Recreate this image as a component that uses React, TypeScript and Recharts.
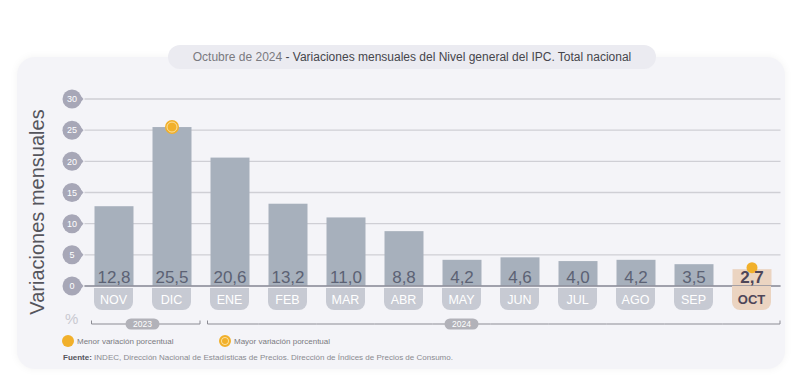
import React from 'react';
import { BarChart, Bar, XAxis, YAxis, CartesianGrid, ReferenceLine, LabelList } from 'recharts';

const months = ['NOV', 'DIC', 'ENE', 'FEB', 'MAR', 'ABR', 'MAY', 'JUN', 'JUL', 'AGO', 'SEP', 'OCT'];
const values = [12.8, 25.5, 20.6, 13.2, 11.0, 8.8, 4.2, 4.6, 4.0, 4.2, 3.5, 2.7];
const years = ['2023', '2023', '2024', '2024', '2024', '2024', '2024', '2024', '2024', '2024', '2024', '2024'];
// where the year pill sits, in category units from the first month of the year
const yearPillAt: Record<string, number> = { '2023': 0.5, '2024': 4 };
const yTicks = [0, 5, 10, 15, 20, 25, 30];
const current = 'OCT';

const data = months.map((m, i) => ({ month: m, value: values[i], year: years[i] }));
const maxVal = Math.max(...values);
const minVal = Math.min(...values);

const W = 796;
const H = 377;
const M = { top: 99, right: 15.5, bottom: 51, left: 54.5 };
const Y_AXIS_W = 30;
const X_AXIS_H = 40;
const plotW = W - M.left - M.right - Y_AXIS_W;
const band = plotW / months.length;

const FONT = '"Liberation Sans", Arial, sans-serif';
const BAR = '#a7b0bc';
const PEACH = '#ebd4c1';
const TAB = '#c7cad3';
const ORANGE = '#f1b02b';
const fmt = (v: number) => v.toFixed(1).replace('.', ',');

function YBadge(props: any) {
    const { x, y, payload } = props;
    const cx = x - 12.5;
    return (
        <g>
            <path d={`M${cx + 4},${y - 8.6} L${cx + 11.5},${y} L${cx + 4},${y + 8.6} Z`} fill="#a7a7b7" />
            <circle cx={cx} cy={y} r={9.5} fill="#a7a7b7" />
            <text x={cx} y={y + 3.2} textAnchor="middle" fontSize={9} fill="#fff" fontFamily={FONT}>
                {payload.value}
            </text>
        </g>
    );
}

function MonthTab(props: any) {
    const { x, y, payload, index } = props;
    const hl = payload.value === current;
    const top = hl ? y : y + 2;
    const bot = y + 24;
    const hw = 19.5;
    const r = 8;
    const year = years[index];
    const first = years.indexOf(year);
    const last = years.lastIndexOf(year);
    const ly = y + 38;
    const x1 = index === first ? x - band / 2 + 7 : x - band / 2;
    const x2 = index === last ? x + band / 2 - 0.5 : x + band / 2;
    const pillIdx = first + Math.round(yearPillAt[year]);
    const pillX = x + (first + yearPillAt[year] - index) * band;
    return (
        <g>
            <path
                d={`M${x - hw},${top} H${x + hw} V${bot - r} A${r},${r} 0 0 1 ${x + hw - r},${bot} H${x - hw + r} A${r},${r} 0 0 1 ${x - hw},${bot - r} Z`}
                fill={hl ? PEACH : TAB}
            />
            <text
                x={x}
                y={y + 17.5}
                textAnchor="middle"
                fontSize={hl ? 13 : 12.5}
                fontWeight={hl ? 700 : 400}
                fill={hl ? '#4e4658' : '#fff'}
                fontFamily={FONT}
            >
                {payload.value}
            </text>
            <line x1={x1} y1={ly} x2={x2} y2={ly} stroke="#8c8c94" strokeWidth={1} />
            {index === first && <line x1={x1} y1={ly - 3.5} x2={x1} y2={ly} stroke="#8c8c94" strokeWidth={1} />}
            {index === last && <line x1={x2} y1={ly - 3.5} x2={x2} y2={ly} stroke="#8c8c94" strokeWidth={1} />}
            {index === pillIdx && (
                <g>
                    <rect x={pillX - 17} y={ly - 5.5} width={34} height={11} rx={5.5} fill="#b2b2b9" />
                    <text x={pillX} y={ly + 3} textAnchor="middle" fontSize={8.5} fill="#fff" fontFamily={FONT}>
                        {year}
                    </text>
                </g>
            )}
        </g>
    );
}

function BarShape(props: any) {
    const { x, y, width, height, payload } = props;
    const hl = payload.month === current;
    const cx = x + width / 2;
    return (
        <g>
            <rect x={x} y={y} width={width} height={height} fill={hl ? PEACH : BAR} />
            {payload.value === maxVal && (
                <g>
                    <circle cx={cx} cy={y} r={7} fill={ORANGE} />
                    <circle cx={cx} cy={y} r={5} fill="none" stroke="#fbe1a1" strokeWidth={1} />
                </g>
            )}
            {payload.value === minVal && <circle cx={cx} cy={y - 1.5} r={5.5} fill={ORANGE} />}
        </g>
    );
}

function ValueLabel(props: any) {
    const { x, y, width, height, value, index } = props;
    const hl = months[index] === current;
    return (
        <text
            x={x + width / 2}
            y={y + height - 3}
            textAnchor="middle"
            fontSize={17}
            fontWeight={hl ? 700 : 400}
            fill={hl ? '#4e4658' : '#5c6274'}
            fontFamily={FONT}
        >
            {fmt(value)}
        </text>
    );
}

export default function App() {
    return (
        <div style={{ position: 'absolute', left: 0, top: 0, width: W, height: H, background: '#fff', fontFamily: FONT }}>
            <div
                style={{
                    position: 'absolute',
                    left: 17,
                    top: 57,
                    width: 768,
                    height: 312,
                    borderRadius: 18,
                    background: '#f4f4f8',
                    boxShadow: '0 0 8px rgba(0,0,0,0.05)',
                }}
            />
            <div
                style={{
                    position: 'absolute',
                    left: 168,
                    top: 45,
                    width: 488,
                    height: 24,
                    borderRadius: 12,
                    background: '#ebebf1',
                    fontSize: 12,
                    lineHeight: '24px',
                    textAlign: 'center',
                    whiteSpace: 'nowrap',
                }}
            >
                <span style={{ color: '#7a7a80' }}>Octubre de 2024</span>
                <span style={{ color: '#46464c' }}> - Variaciones mensuales del Nivel general del IPC. Total nacional</span>
            </div>
            <div
                style={{
                    position: 'absolute',
                    left: 37 - 110,
                    top: 212 - 13,
                    width: 220,
                    height: 26,
                    lineHeight: '26px',
                    textAlign: 'center',
                    transform: 'rotate(-90deg)',
                    fontSize: 20,
                    color: '#55555c',
                    whiteSpace: 'nowrap',
                }}
            >
                Variaciones mensuales
            </div>
            <div style={{ position: 'absolute', left: 65, top: 310, fontSize: 15, color: '#c9c9d1' }}>%</div>
            <div style={{ position: 'absolute', left: 0, top: 0 }}>
                <BarChart width={W} height={H} data={data} margin={M} barSize={39}>
                    <CartesianGrid horizontal vertical={false} stroke="#cfcfd5" strokeWidth={1.4} />
                    <XAxis
                        dataKey="month"
                        height={X_AXIS_H}
                        axisLine={false}
                        tickLine={false}
                        tickSize={0}
                        tickMargin={0}
                        interval={0}
                        tick={<MonthTab />}
                    />
                    <YAxis
                        width={Y_AXIS_W}
                        domain={[0, 30]}
                        ticks={yTicks}
                        axisLine={false}
                        tickLine={false}
                        tickSize={0}
                        tickMargin={0}
                        tick={<YBadge />}
                    />
                    <Bar dataKey="value" shape={<BarShape />} isAnimationActive={false}>
                        <LabelList dataKey="value" content={<ValueLabel />} />
                    </Bar>
                    <ReferenceLine y={0} stroke="#8e8f9b" strokeWidth={1.5} />
                </BarChart>
            </div>
            <div style={{ position: 'absolute', left: 62, top: 335, fontSize: 8, color: '#7a7a80', display: 'flex', alignItems: 'center' }}>
                <span style={{ width: 12, height: 12, borderRadius: 6, background: ORANGE, marginRight: 3 }} />
                <span>Menor variación porcentual</span>
            </div>
            <div style={{ position: 'absolute', left: 219, top: 335, fontSize: 8, color: '#7a7a80', display: 'flex', alignItems: 'center' }}>
                <span
                    style={{
                        width: 12,
                        height: 12,
                        borderRadius: 6,
                        background: ORANGE,
                        marginRight: 3,
                        boxSizing: 'border-box',
                        border: '2px solid ' + ORANGE,
                        boxShadow: 'inset 0 0 0 1px #fbe1a1',
                    }}
                />
                <span>Mayor variación porcentual</span>
            </div>
            <div style={{ position: 'absolute', left: 63, top: 353, fontSize: 8, color: '#8a8a90', whiteSpace: 'nowrap' }}>
                <b style={{ color: '#55555c' }}>Fuente:</b> INDEC, Dirección Nacional de Estadísticas de Precios. Dirección de Índices de Precios de Consumo.
            </div>
        </div>
    );
}
